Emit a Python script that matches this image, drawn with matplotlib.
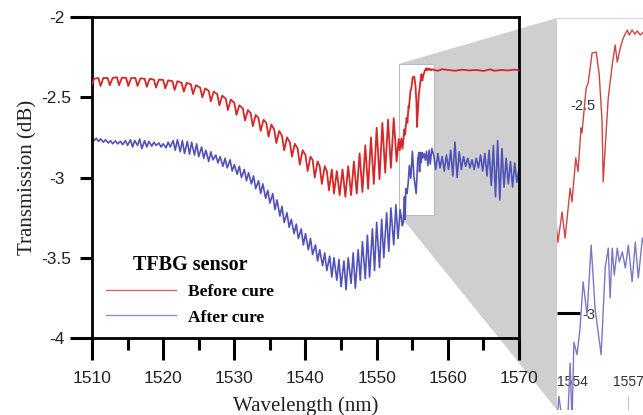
import numpy as np
import matplotlib
matplotlib.use('Agg')
import matplotlib.pyplot as plt
from matplotlib.patches import Polygon, Rectangle
from matplotlib.ticker import MultipleLocator

plt.rcParams['font.family'] = 'Liberation Sans'

# (wavelength nm, transmission dB)
before_cure = [
    (1510.0, -2.42), (1510.3, -2.385), (1510.9, -2.38), (1511.2, -2.43), (1511.6, -2.38),
    (1512.2, -2.38), (1512.5, -2.425), (1512.9, -2.38), (1513.5, -2.375), (1513.8, -2.425),
    (1514.2, -2.378), (1514.8, -2.38), (1515.1, -2.43), (1515.5, -2.38), (1516.1, -2.38),
    (1516.4, -2.43), (1516.8, -2.382), (1517.4, -2.385), (1517.7, -2.435), (1518.1, -2.385),
    (1518.7, -2.39), (1519.0, -2.44), (1519.4, -2.39), (1520.0, -2.392), (1520.3, -2.445),
    (1520.7, -2.395), (1521.3, -2.40), (1521.6, -2.455), (1522.0, -2.40), (1522.6, -2.41),
    (1522.9, -2.465), (1523.3, -2.41), (1523.9, -2.42), (1524.2, -2.48), (1524.6, -2.425),
    (1525.2, -2.44), (1525.5, -2.50), (1525.9, -2.445), (1526.4, -2.46), (1526.7, -2.525),
    (1527.1, -2.465), (1527.6, -2.48), (1527.9, -2.55), (1528.3, -2.49), (1528.8, -2.51),
    (1529.1, -2.58), (1529.5, -2.515), (1530.0, -2.535), (1530.3, -2.61), (1530.7, -2.55),
    (1531.2, -2.57), (1531.5, -2.645), (1531.9, -2.58), (1532.3, -2.60), (1532.6, -2.68),
    (1533.0, -2.61), (1533.4, -2.63), (1533.7, -2.71), (1534.1, -2.64), (1534.5, -2.66),
    (1534.8, -2.745), (1535.2, -2.67), (1535.6, -2.70), (1535.9, -2.785), (1536.3, -2.71),
    (1536.7, -2.74), (1537.0, -2.83), (1537.4, -2.75), (1537.8, -2.78), (1538.1, -2.87),
    (1538.5, -2.79), (1538.9, -2.82), (1539.2, -2.92), (1539.6, -2.83), (1540.0, -2.86),
    (1540.3, -2.96), (1540.7, -2.87), (1541.0, -2.89), (1541.3, -3.00), (1541.7, -2.90),
    (1542.0, -2.93), (1542.3, -3.04), (1542.7, -2.93), (1543.0, -2.96), (1543.3, -3.08),
    (1543.7, -2.95), (1544.0, -3.10), (1544.4, -2.96), (1544.8, -3.11), (1545.2, -2.95),
    (1545.6, -3.12), (1546.0, -2.93), (1546.4, -3.11), (1546.8, -2.90), (1547.2, -3.10),
    (1547.6, -2.85), (1548.0, -3.09), (1548.4, -2.80), (1548.8, -3.07), (1549.2, -2.75),
    (1549.6, -3.04), (1550.0, -2.69), (1550.4, -3.01), (1550.8, -2.66), (1551.2, -2.97),
    (1551.6, -2.64), (1552.0, -2.94), (1552.4, -2.63), (1552.8, -2.90),
    (1553.1, -2.76), (1553.25, -2.83), (1553.47, -2.757), (1553.63, -2.82), (1553.9, -2.70),
    (1554.0, -2.733), (1554.2, -2.627), (1554.32, -2.66), (1554.48, -2.555), (1554.53, -2.567),
    (1554.75, -2.46), (1554.86, -2.447), (1555.07, -2.375), (1555.29, -2.373), (1555.45, -2.428),
    (1555.6, -2.54), (1555.66, -2.685), (1555.77, -2.60), (1555.93, -2.483), (1556.14, -2.404),
    (1556.3, -2.356), (1556.41, -2.397), (1556.57, -2.363), (1556.73, -2.339), (1556.94, -2.32),
    (1557.05, -2.332), (1557.2, -2.32), (1557.35, -2.33), (1557.47, -2.322), (1557.64, -2.332),
    (1557.8, -2.325), (1558.0, -2.33), (1558.6, -2.335), (1559.2, -2.325), (1560.0, -2.33),
    (1561.0, -2.335), (1562.0, -2.328), (1563.0, -2.333), (1564.0, -2.33), (1565.0, -2.336),
    (1566.0, -2.326), (1566.5, -2.335), (1567.5, -2.33), (1568.5, -2.333), (1569.3, -2.328),
    (1570.0, -2.332),
]

after_cure = [
    (1510.0, -2.745), (1510.3, -2.77), (1510.6, -2.755), (1510.9, -2.775), (1511.2, -2.76),
    (1511.6, -2.78), (1511.9, -2.765), (1512.3, -2.785), (1512.6, -2.77), (1512.9, -2.79),
    (1513.3, -2.772), (1513.6, -2.79), (1514.0, -2.775), (1514.3, -2.795), (1514.7, -2.77),
    (1515.0, -2.80), (1515.4, -2.765), (1515.7, -2.81), (1516.0, -2.77), (1516.4, -2.80),
    (1516.7, -2.76), (1517.0, -2.82), (1517.4, -2.77), (1517.7, -2.81), (1518.0, -2.775),
    (1518.4, -2.805), (1518.7, -2.78), (1519.0, -2.80), (1519.4, -2.785), (1519.7, -2.81),
    (1520.0, -2.79), (1520.4, -2.815), (1520.7, -2.78), (1521.0, -2.81), (1521.4, -2.77),
    (1521.7, -2.83), (1522.0, -2.765), (1522.4, -2.84), (1522.7, -2.77), (1523.0, -2.85),
    (1523.4, -2.775), (1523.7, -2.855), (1524.0, -2.78), (1524.4, -2.86), (1524.7, -2.79),
    (1525.0, -2.87), (1525.4, -2.81), (1525.7, -2.88), (1526.0, -2.83), (1526.4, -2.90),
    (1526.7, -2.84), (1527.0, -2.89), (1527.4, -2.86), (1527.7, -2.91), (1528.0, -2.87),
    (1528.4, -2.93), (1528.7, -2.88), (1529.0, -2.94), (1529.4, -2.89), (1529.7, -2.96),
    (1530.0, -2.92), (1530.4, -2.98), (1530.7, -2.93), (1531.0, -3.00), (1531.4, -2.95),
    (1531.7, -3.02), (1532.0, -2.97), (1532.4, -3.04), (1532.7, -2.99), (1533.0, -3.07),
    (1533.4, -3.02), (1533.7, -3.10), (1534.0, -3.04), (1534.4, -3.13), (1534.7, -3.08),
    (1535.0, -3.16), (1535.4, -3.10), (1535.7, -3.20), (1536.0, -3.14), (1536.4, -3.24),
    (1536.7, -3.18), (1537.0, -3.28), (1537.4, -3.22), (1537.7, -3.31), (1538.0, -3.26),
    (1538.4, -3.35), (1538.7, -3.29), (1539.0, -3.38), (1539.4, -3.32), (1539.7, -3.42),
    (1540.0, -3.35), (1540.4, -3.45), (1540.7, -3.38), (1541.0, -3.48), (1541.4, -3.42),
    (1541.7, -3.52), (1542.0, -3.45), (1542.4, -3.55), (1542.7, -3.47), (1543.0, -3.58),
    (1543.4, -3.49), (1543.7, -3.62), (1544.0, -3.50), (1544.4, -3.64), (1544.7, -3.51),
    (1545.0, -3.68), (1545.4, -3.52), (1545.7, -3.70), (1546.0, -3.50), (1546.4, -3.66),
    (1546.7, -3.47), (1547.0, -3.69), (1547.4, -3.45), (1547.7, -3.64), (1548.0, -3.40),
    (1548.4, -3.63), (1548.7, -3.36), (1549.0, -3.62), (1549.4, -3.32), (1549.7, -3.58),
    (1550.0, -3.28), (1550.4, -3.56), (1550.7, -3.26), (1551.0, -3.50), (1551.4, -3.22),
    (1551.7, -3.46), (1552.0, -3.19), (1552.4, -3.42), (1552.7, -3.17), (1553.0, -3.38),
    (1553.3, -3.20), (1553.6, -3.30), (1553.75, -3.28), (1553.9, -3.12), (1554.0, -3.26),
    (1554.1, -3.07), (1554.27, -3.10), (1554.43, -3.035), (1554.59, -2.925), (1554.8, -3.005),
    (1555.02, -2.837), (1555.23, -2.99), (1555.55, -3.10), (1555.77, -2.89), (1555.93, -2.844),
    (1556.03, -2.964), (1556.14, -2.844), (1556.25, -2.909), (1556.41, -2.844), (1556.52, -2.877),
    (1556.68, -2.853), (1556.84, -2.892), (1557.0, -2.837), (1557.2, -2.925), (1557.37, -2.83),
    (1557.53, -2.916), (1557.75, -2.82), (1558.0, -2.86), (1558.3, -2.95), (1558.6, -2.85),
    (1558.9, -2.94), (1559.2, -2.87), (1559.5, -2.96), (1559.8, -2.86), (1560.1, -2.95),
    (1560.4, -2.83), (1560.7, -2.99), (1561.0, -2.78), (1561.3, -3.00), (1561.6, -2.84),
    (1561.9, -2.95), (1562.2, -2.87), (1562.5, -2.93), (1562.8, -2.88), (1563.1, -2.94),
    (1563.4, -2.89), (1563.7, -2.95), (1564.0, -2.88), (1564.3, -2.94), (1564.6, -2.86),
    (1564.9, -2.96), (1565.2, -2.85), (1565.5, -2.99), (1565.8, -2.83), (1566.1, -3.05),
    (1566.4, -2.80), (1566.7, -3.12), (1567.0, -2.77), (1567.3, -3.14), (1567.6, -2.82),
    (1567.9, -3.06), (1568.2, -2.88), (1568.5, -3.04), (1568.8, -2.90), (1569.1, -3.06),
    (1569.4, -2.91), (1569.7, -3.03), (1570.0, -2.95),
]

x_ticks = [1510, 1520, 1530, 1540, 1550, 1560, 1570]
y_ticks = [-2, -2.5, -3, -3.5, -4]
y_ticklabels = ['-2', '-2.5', '-3', '-3.5', '-4']

# magnified window
zoom_xlim = (1553.2, 1558.1)
zoom_ylim = (-3.233, -2.291)
inset_xticks = [1554, 1557]
inset_yticks = [-2.5, -3]
inset_yticklabels = ['-2.5', '-3']

wl_b, tr_b = np.array(before_cure).T
wl_a, tr_a = np.array(after_cure).T

W, H = 643, 415
fig = plt.figure(figsize=(W / 100, H / 100), dpi=100)

ax = fig.add_axes([92 / W, 1 - 338 / H, 427 / W, 321 / H])
ax.set_facecolor('none')
ax.plot(wl_b, tr_b, color='#d42828', lw=1.3, label='Before cure', zorder=3)
ax.plot(wl_a, tr_a, color='#5252b8', lw=1.2, label='After cure', zorder=2)
ax.set_xlim(1510, 1570)
ax.set_ylim(-4, -2)

ax.set_xticks(x_ticks)
ax.xaxis.set_minor_locator(MultipleLocator(5))
ax.set_yticks(y_ticks)
ax.set_yticklabels(y_ticklabels)
ax.tick_params(axis='x', which='major', direction='out', length=16, width=2.2,
               pad=8, labelsize=12.5, labelcolor='#222222')
ax.tick_params(axis='x', which='minor', direction='out', length=8.5, width=2.2)
ax.tick_params(axis='y', direction='out', length=8.5, width=2.2, pad=17,
               labelsize=12.5, labelcolor='#222222')
for lab in ax.get_yticklabels():
    lab.set_ha('center')
for t in ax.yaxis.get_major_ticks():
    if t.get_loc() in (-2, -4):
        t.tick1line.set_markersize(16)
for sp in ax.spines.values():
    sp.set_linewidth(2)

ax.set_xlabel('Wavelength (nm)', family='Liberation Serif', fontsize=15, color='#222222')
ax.set_ylabel('Transmission (dB)', family='Liberation Serif', fontsize=15, color='#222222')
ax.xaxis.set_label_coords(0.5, -0.18)
ax.yaxis.set_label_coords(-0.128, 0.5)

# white window marking the magnified region
ax.add_patch(Rectangle((zoom_xlim[0], zoom_ylim[0]), zoom_xlim[1] - zoom_xlim[0],
                       zoom_ylim[1] - zoom_ylim[0], facecolor='white',
                       edgecolor='#bbbbbb', lw=0.8, zorder=1))

leg = ax.legend(loc='upper left', bbox_to_anchor=(0.033, 0.258), frameon=False,
                borderpad=0, borderaxespad=0, handlelength=4, handletextpad=0.7,
                labelspacing=0.52,
                prop={'family': 'Liberation Serif', 'weight': 'bold', 'size': 12.5},
                title='TFBG sensor',
                title_fontproperties={'family': 'Liberation Serif', 'weight': 'bold', 'size': 14.5})
leg.get_lines()[0].set_color('#cc6a6a')
leg.get_lines()[1].set_color('#8c8cc8')
for ln in leg.get_lines():
    ln.set_linewidth(1.0)

# inset
axin = fig.add_axes([557 / W, 1 - 410 / H, 92 / W, 392 / H], zorder=2)
axin.set_facecolor('white')
axin.plot(wl_b, tr_b, color='#cc4444', lw=1.0)
axin.plot(wl_a, tr_a, color='#7878c4', lw=1.0)
axin.set_xlim(*zoom_xlim)
axin.set_ylim(*zoom_ylim)
axin.set_xticks(inset_xticks)
axin.set_yticks(inset_yticks)
axin.set_yticklabels(inset_yticklabels)
axin.tick_params(axis='x', direction='in', length=11, width=0.8, color='#c8c8c8',
                 pad=-25, labelsize=10, labelcolor='#333333')
axin.tick_params(axis='y', direction='in', length=16.5, width=2.2, color='black',
                 pad=-27.5, labelsize=10.5, labelcolor='#333333')
for t in axin.yaxis.get_major_ticks():
    if t.get_loc() == -2.5:
        t.tick1line.set_visible(False)
for name, sp in axin.spines.items():
    if name == 'top':
        sp.set_color('#dddddd')
        sp.set_linewidth(1)
    else:
        sp.set_visible(False)

# grey magnifier shape joining the window to the inset
to_fig = fig.transFigure.inverted()
corners = [ax.transData.transform((zoom_xlim[0], zoom_ylim[1])),
           axin.transAxes.transform((0, 1)),
           axin.transAxes.transform((0, 0)),
           ax.transData.transform((zoom_xlim[0], zoom_ylim[0]))]
fig.add_artist(Polygon(to_fig.transform(corners), closed=True, transform=fig.transFigure,
                       facecolor='#cfcfcf', edgecolor='none', zorder=-1))

fig.savefig('out.png', dpi=100)
